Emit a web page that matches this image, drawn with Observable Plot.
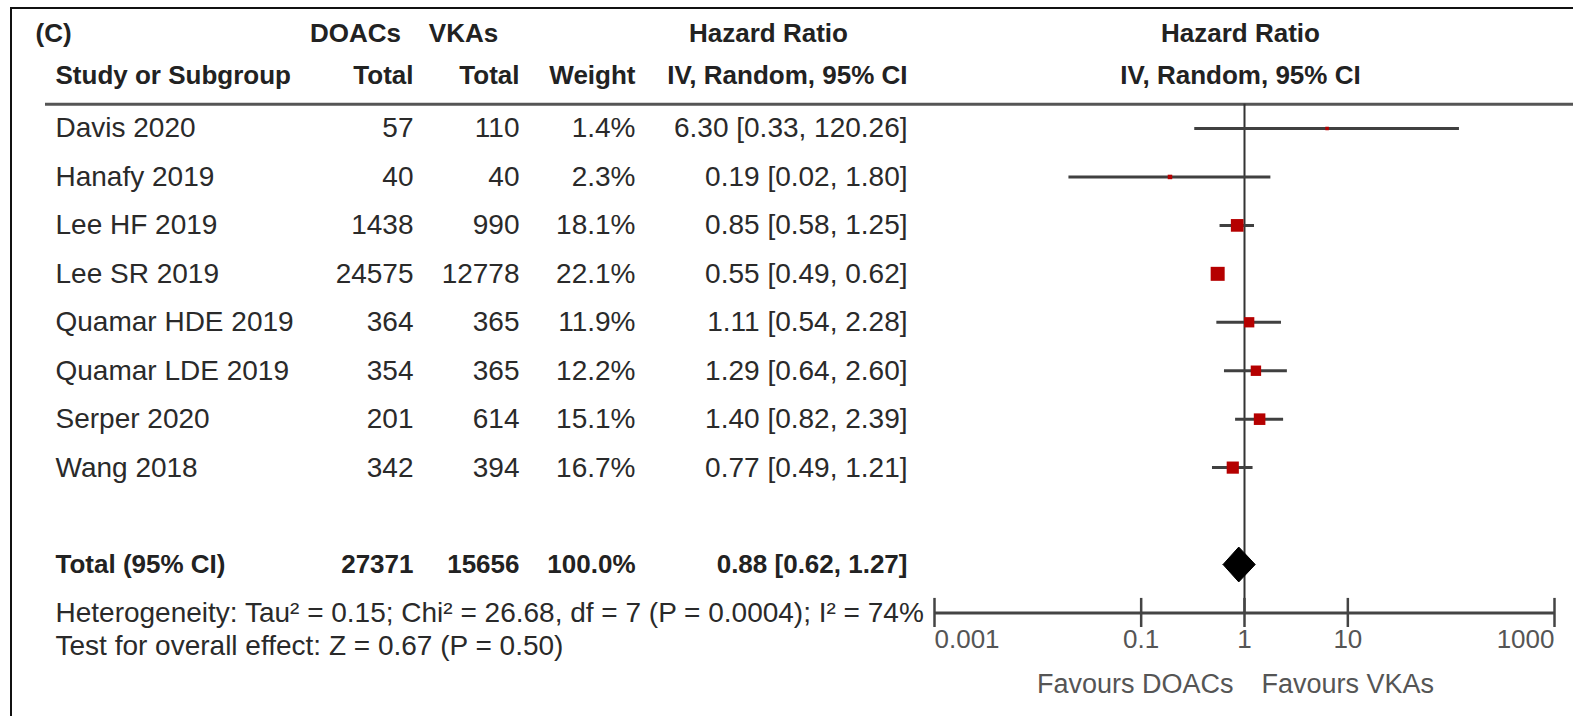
<!DOCTYPE html>
<html>
<head>
<meta charset="utf-8">
<script src="https://cdn.jsdelivr.net/npm/d3@7"></script>
<script src="https://cdn.jsdelivr.net/npm/@observablehq/plot@0.6"></script>
<style>
  html, body { margin: 0; padding: 0; background: #fff; }
  #wrap { position: relative; width: 1573px; height: 716px; overflow: hidden; }
  #border { position: absolute; left: 10px; top: 7px; width: 1600px; height: 800px;
            border-left: 2px solid #111; border-top: 2px solid #111; pointer-events: none; }
</style>
</head>
<body>
<div id="wrap"><div id="border"></div></div>
<script>
// ---- data ----
const studies     = ["Davis 2020", "Hanafy 2019", "Lee HF 2019", "Lee SR 2019", "Quamar HDE 2019", "Quamar LDE 2019", "Serper 2020", "Wang 2018"];
const doacTotals  = [57, 40, 1438, 24575, 364, 354, 201, 342];
const vkaTotals   = [110, 40, 990, 12778, 365, 365, 614, 394];
const weights     = [1.4, 2.3, 18.1, 22.1, 11.9, 12.2, 15.1, 16.7];
const hrs         = [6.30, 0.19, 0.85, 0.55, 1.11, 1.29, 1.40, 0.77];
const los         = [0.33, 0.02, 0.58, 0.49, 0.54, 0.64, 0.82, 0.49];
const his         = [120.26, 1.80, 1.25, 0.62, 2.28, 2.60, 2.39, 1.21];

const totalLabel  = "Total (95% CI)";
const totalDoac   = 27371;
const totalVka    = 15656;
const totalWeight = 100.0;
const totalHr     = 0.88;
const totalLo     = 0.62;
const totalHi     = 1.27;

const heterogeneityText = "Heterogeneity: Tau² = 0.15; Chi² = 26.68, df = 7 (P = 0.0004); I² = 74%";
const overallText       = "Test for overall effect: Z = 0.67 (P = 0.50)";

const tickValues = [0.001, 0.1, 1, 10, 1000];
const tickLabels = ["0.001", "0.1", "1", "10", "1000"];
const favourLeft  = "Favours DOACs";
const favourRight = "Favours VKAs";

// ---- table built from arrays ----
const rows = studies.map((s, i) => ({
  row: i, study: s, doac: doacTotals[i], vka: vkaTotals[i], weight: weights[i],
  hr: hrs[i], lo: los[i], hi: his[i]
}));
const fmtCI = (h, l, u) => `${h.toFixed(2)} [${l.toFixed(2)}, ${u.toFixed(2)}]`;
const totalRow = 9;
const axisRow = 10;
const ticks = tickValues.map((v, i) => ({v, label: tickLabels[i]}));

// ---- layout ----
const W = 1573, H = 716, ML = 45;
const col = {study: 55, doac: 413, vka: 519, weight: 635, ci: 907, tag: 35};
const dxOf = px => px - ML;
const body = "'Liberation Sans', Arial, sans-serif";
const head = "'Liberation Sans', Arial, sans-serif";
const BS = 28, HS = 26;
const txt = "#2a2a2a";
const hdr = -1.1, hdr1 = -1.96;

const headerText = (y, px, t, anchor) =>
  Plot.text([t], {y: () => y, text: d => d, frameAnchor: "left", dx: dxOf(px), textAnchor: anchor,
    fontFamily: head, fontWeight: "bold", fontSize: HS, fill: "#222"});
const colText = (data, y, key, px, anchor, opts = {}) =>
  Plot.text(data, {y, text: key, frameAnchor: "left", dx: dxOf(px), textAnchor: anchor,
    fontFamily: body, fontSize: BS, fill: txt, ...opts});

const chart = Plot.plot({
  width: W, height: H,
  marginLeft: ML, marginRight: 0, marginTop: 0, marginBottom: 0,
  x: {type: "log", domain: [0.001, 1000], range: [934, 1554], axis: null},
  y: {domain: [0, 9], range: [128, 564], axis: null},
  r: {type: "sqrt", domain: [0, 22.1], range: [0, 7.9]},
  style: {background: "transparent"},
  marks: [
    // header
    headerText(hdr1, col.tag, "(C)", "start"),
    headerText(hdr1, 355, "DOACs", "middle"),
    headerText(hdr1, 463, "VKAs", "middle"),
    headerText(hdr1, 768, "Hazard Ratio", "middle"),
    headerText(hdr, col.study, "Study or Subgroup", "start"),
    headerText(hdr, col.doac, "Total", "end"),
    headerText(hdr, col.vka, "Total", "end"),
    headerText(hdr, col.weight, "Weight", "end"),
    headerText(hdr, col.ci, "IV, Random, 95% CI", "end"),
    Plot.text(["Hazard Ratio"], {x: () => 1, y: () => hdr1, text: d => d, dx: -4,
      fontFamily: head, fontWeight: "bold", fontSize: HS, fill: "#222"}),
    Plot.text(["IV, Random, 95% CI"], {x: () => 1, y: () => hdr, text: d => d, dx: -4,
      fontFamily: head, fontWeight: "bold", fontSize: HS, fill: "#222"}),
    Plot.ruleY([-0.5], {stroke: "#555", strokeWidth: 3}),

    // study rows
    colText(rows, "row", "study", col.study, "start"),
    colText(rows, "row", d => String(d.doac), col.doac, "end"),
    colText(rows, "row", d => String(d.vka), col.vka, "end"),
    colText(rows, "row", d => d.weight.toFixed(1) + "%", col.weight, "end"),
    colText(rows, "row", d => fmtCI(d.hr, d.lo, d.hi), col.ci, "end"),

    // total row
    headerText(totalRow, col.study, totalLabel, "start"),
    headerText(totalRow, col.doac, String(totalDoac), "end"),
    headerText(totalRow, col.vka, String(totalVka), "end"),
    headerText(totalRow, col.weight, totalWeight.toFixed(1) + "%", "end"),
    headerText(totalRow, col.ci, fmtCI(totalHr, totalLo, totalHi), "end"),

    // footer
    colText([heterogeneityText], () => axisRow, d => d, col.study, "start"),
    colText([overallText], () => axisRow + 0.68, d => d, col.study, "start"),

    // forest plot
    Plot.ruleX([1], {y1: -0.5, y2: axisRow, stroke: "#333", strokeWidth: 2}),
    Plot.ruleY(rows, {y: "row", x1: "lo", x2: "hi", stroke: "#404040", strokeWidth: 3}),
    Plot.dot(rows, {x: "hr", y: "row", r: "weight", symbol: "square", fill: "#b50000", stroke: "none"}),
    Plot.line([
      {x: totalLo, y: totalRow}, {x: totalHr, y: totalRow - 0.36}, {x: totalHi, y: totalRow},
      {x: totalHr, y: totalRow + 0.36}, {x: totalLo, y: totalRow}
    ], {x: "x", y: "y", fill: "#000", stroke: "#000", strokeWidth: 1}),

    // axis
    Plot.ruleY([axisRow], {x1: () => tickValues[0], x2: () => tickValues[tickValues.length - 1], stroke: "#444", strokeWidth: 3}),
    Plot.ruleX(tickValues, {y1: axisRow - 0.3, y2: axisRow + 0.3, stroke: "#444", strokeWidth: 2.5}),
    Plot.text(ticks.slice(0, 1), {x: "v", y: () => axisRow, dy: 27, text: "label", textAnchor: "start",
      fontFamily: body, fontSize: 26, fill: "#555"}),
    Plot.text(ticks.slice(1, -1), {x: "v", y: () => axisRow, dy: 27, text: "label", textAnchor: "middle",
      fontFamily: body, fontSize: 26, fill: "#555"}),
    Plot.text(ticks.slice(-1), {x: "v", y: () => axisRow, dy: 27, text: "label", textAnchor: "end",
      fontFamily: body, fontSize: 26, fill: "#555"}),
    Plot.text([favourLeft], {x: () => 1, y: () => axisRow, dy: 71, dx: -11, text: d => d, textAnchor: "end",
      fontFamily: body, fontSize: 27, fill: "#555"}),
    Plot.text([favourRight], {x: () => 1, y: () => axisRow, dy: 71, dx: 17, text: d => d, textAnchor: "start",
      fontFamily: body, fontSize: 27, fill: "#555"})
  ]
});
document.getElementById("wrap").prepend(chart);
</script>
</body>
</html>
